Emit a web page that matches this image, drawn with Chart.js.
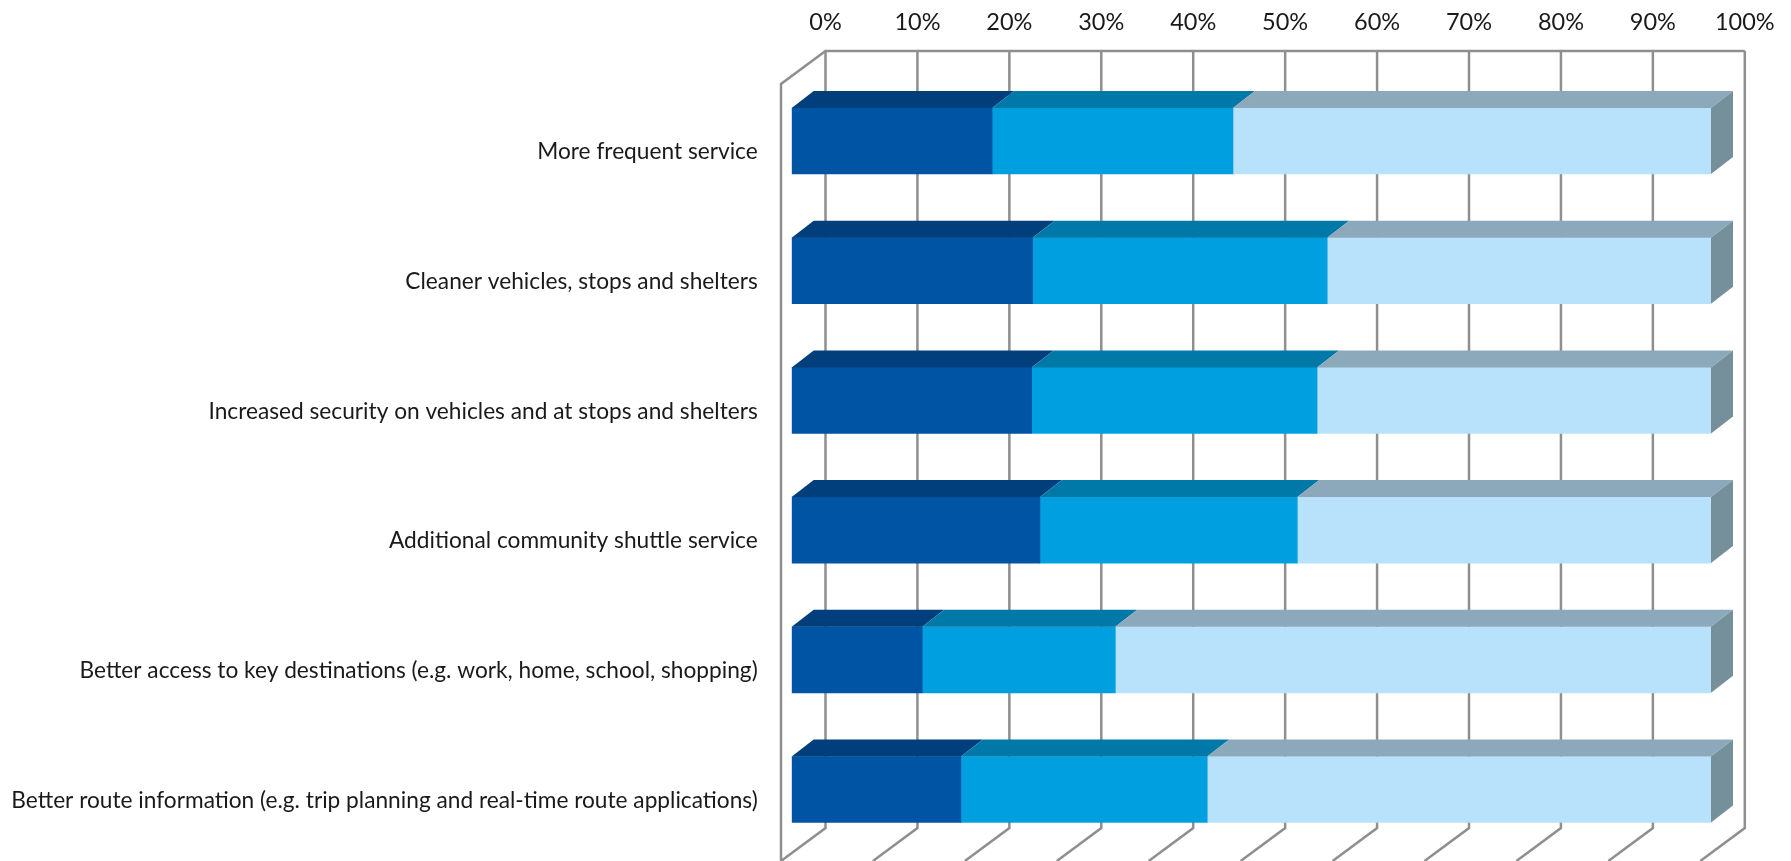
<!DOCTYPE html>
<html>
<head>
<meta charset="utf-8">
<title>Chart</title>
<script src="https://cdn.jsdelivr.net/npm/chart.js@4"></script>
<style>
    html, body { margin: 0; padding: 0; background: #fff; }
    canvas { display: block; }
</style>
</head>
<body>
<canvas id="chart" width="1791" height="861"></canvas>
<script>
const categories = [
    'More frequent service',
    'Cleaner vehicles, stops and shelters',
    'Increased security on vehicles and at stops and shelters',
    'Additional community shuttle service',
    'Better access to key destinations (e.g. work, home, school, shopping)',
    'Better route information (e.g. trip planning and real-time route applications)'
];
const firstPart = [21.8, 26.2, 26.1, 27.0, 14.2, 18.4];
const secondPart = [26.2, 32.05, 31.05, 28.0, 21.0, 26.8];
const thirdPart = [52.0, 41.75, 42.85, 45.0, 64.8, 54.8];

const FONT = 'Lato';
const GRID = '#8f8f8f';
// offset from the bar front to the bar back, the walls sit twice that far apart
const DX = 22, DY = 17;

// top faces and end cap of the bars, gridded walls behind them
const box3d = {
    id: 'box3d',
    afterLayout(chart) {
        // layout keeps too much room under the y axis, stretch it back to the full plot
        const y = chart.scales.y;
        y.top = 76.15;
        y.bottom = 854.35;
        y.height = y.bottom - y.top;
        y.configure();
        chart.chartArea.top = y.top;
        chart.chartArea.bottom = y.bottom;
        chart.chartArea.height = y.height;
    },
    beforeDatasetsDraw(chart) {
        const x = chart.scales.x, ctx = chart.ctx;
        const top = 51, bottom = 828;
        const backOff = 33.8;
        ctx.save();
        ctx.strokeStyle = GRID;
        ctx.lineWidth = 2.5;
        x.ticks.forEach(t => {
            const px = x.getPixelForValue(t.value) + backOff;
            ctx.beginPath();
            ctx.moveTo(px, top);
            ctx.lineTo(px, bottom);
            ctx.lineTo(px - 44.5, bottom + 33);
            ctx.stroke();
        });
        const x0 = x.getPixelForValue(0) + backOff;
        const x1 = x.getPixelForValue(100) + backOff;
        ctx.beginPath();
        ctx.moveTo(x1, top);
        ctx.lineTo(x0, top);
        ctx.lineTo(x0 - 44.5, top + 33);
        ctx.lineTo(x0 - 44.5, 861);
        ctx.stroke();
        ctx.restore();
    },
    afterDatasetsDraw(chart) {
        const ctx = chart.ctx;
        const last = chart.data.datasets.length - 1;
        chart.data.datasets.forEach((ds, i) => {
            chart.getDatasetMeta(i).data.forEach(bar => {
                const p = bar.getProps(['x', 'y', 'base', 'height'], true);
                const t = p.y - p.height / 2, b = p.y + p.height / 2;
                ctx.fillStyle = ds.topColor;
                ctx.beginPath();
                ctx.moveTo(p.base, t);
                ctx.lineTo(p.base + DX, t - DY);
                ctx.lineTo(p.x + DX, t - DY);
                ctx.lineTo(p.x, t);
                ctx.closePath();
                ctx.fill();
                if (i === last) {
                    ctx.fillStyle = ds.sideColor;
                    ctx.beginPath();
                    ctx.moveTo(p.x, t);
                    ctx.lineTo(p.x + DX, t - DY);
                    ctx.lineTo(p.x + DX, b - DY);
                    ctx.lineTo(p.x, b);
                    ctx.closePath();
                    ctx.fill();
                }
            });
        });
    }
};

new Chart(document.getElementById('chart'), {
    type: 'bar',
    data: {
        labels: categories,
        datasets: [
            { label: 'First', data: firstPart, backgroundColor: '#0054a4', topColor: '#003f7b' },
            { label: 'Second', data: secondPart, backgroundColor: '#00a0e0', topColor: '#0078a8' },
            { label: 'Third', data: thirdPart, backgroundColor: '#b8e1fb', topColor: '#8ba9bb', sideColor: '#758f9b' }
        ]
    },
    options: {
        indexAxis: 'y',
        responsive: false,
        animation: false,
        layout: { padding: { left: 0, top: 0, right: 80, bottom: 0 } },
        datasets: { bar: { barThickness: 66 } },
        plugins: {
            legend: { display: false },
            title: { display: false },
            tooltip: { enabled: false }
        },
        scales: {
            x: {
                position: 'top',
                stacked: true,
                min: 0,
                max: 100,
                afterFit(scale) { scale.height = 76.15; },
                grid: { display: false },
                border: { display: false },
                ticks: {
                    stepSize: 10,
                    autoSkip: false,
                    maxRotation: 0,
                    labelOffset: 33.8,
                    padding: 32,
                    color: '#1a1a1a',
                    font: { family: FONT, size: 23.5 },
                    callback: v => v + '%'
                }
            },
            y: {
                stacked: true,
                afterFit(scale) { scale.width = 791.7; },
                grid: { display: false },
                border: { display: false },
                ticks: {
                    autoSkip: false,
                    padding: 26,
                    labelOffset: 11,
                    color: '#1a1a1a',
                    font: { family: FONT, size: 22.7 }
                }
            }
        }
    },
    plugins: [box3d]
});
</script>
</body>
</html>
